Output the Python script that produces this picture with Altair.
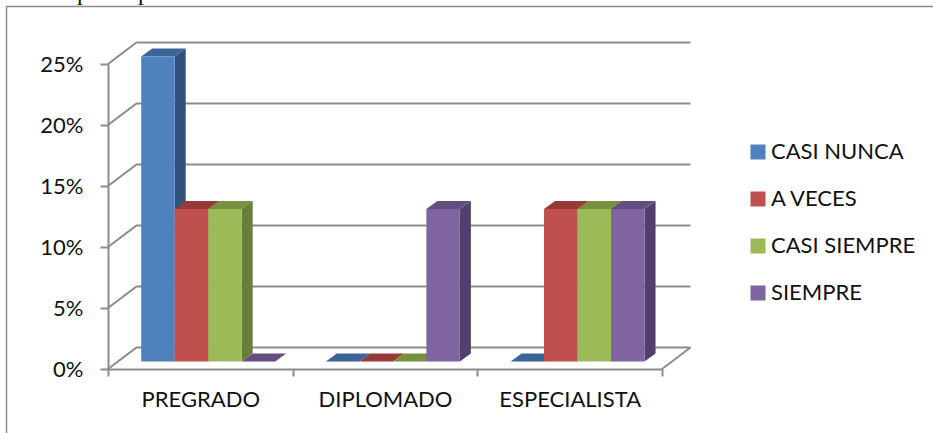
import altair as alt
import pandas as pd

categories = ["PREGRADO", "DIPLOMADO", "ESPECIALISTA"]
series = ["CASI NUNCA", "A VECES", "CASI SIEMPRE", "SIEMPRE"]
casi_nunca = [0.25, 0.0, 0.0]
a_veces = [0.125, 0.0, 0.125]
casi_siempre = [0.125, 0.0, 0.125]
siempre = [0.0, 0.125, 0.125]
front_colors = ["#4F81BD", "#C0504D", "#9BBB59", "#8064A2"]
side_colors = ["#31527A", "#7D3432", "#66803A", "#533F6E"]
top_colors = ["#3B6497", "#953A38", "#76903F", "#644E80"]
y_ticks = [0, 0.05, 0.10, 0.15, 0.20, 0.25]
stray_letters = ["p", "p"]

# Oblique projection, expressed in axis units
PLOT_W, PLOT_H = 554, 305
X_PER_PX = 3 / PLOT_W
Y_PER_PX = 0.25 / PLOT_H
wall_dx, wall_dy = 28.5 * X_PER_PX, 21.5 * Y_PER_PX
bar_dx, bar_dy = 11 * X_PER_PX, 8 * Y_PER_PX
shift_x, shift_y = 33.2 * X_PER_PX, 7.5 * Y_PER_PX
bar_w = 33.5 * X_PER_PX

GREY = "#8C8C8C"
FONT = "Lato"
x_scale = alt.Scale(domain=[0, 3], nice=False)
y_scale = alt.Scale(domain=[0, 0.25], nice=False)

# Walls and floor lines
grid_rows = []
for t in y_ticks:
    grid_rows += [
        {"line": t, "order": 0, "x": 0, "y": t},
        {"line": t, "order": 1, "x": wall_dx, "y": t + wall_dy},
        {"line": t, "order": 2, "x": 3 + wall_dx, "y": t + wall_dy},
    ]
grid_rows += [
    {"line": -1, "order": 0, "x": 3, "y": 0},
    {"line": -1, "order": 1, "x": 3 + wall_dx, "y": wall_dy},
]
grid = alt.Chart(pd.DataFrame(grid_rows)).mark_line(
    color=GREY, strokeWidth=2
).encode(
    x=alt.X("x:Q", scale=x_scale, title=None,
            axis=alt.Axis(
                values=[0, 0.5, 1, 1.5, 2, 2.5, 3],
                labelExpr="datum.value === 0.5 ? '%s' : datum.value === 1.5 ? '%s' : datum.value === 2.5 ? '%s' : ''" % tuple(categories),
                tickOpacity={"condition": {"test": "datum.value % 1 === 0", "value": 1}, "value": 0},
                domainColor=GREY, domainWidth=2, tickColor=GREY, tickWidth=2, tickSize=7,
                labelFont=FONT, labelFontSize=22, labelColor="#111111", labelPadding=13,
                labelOverlap=False, labelFlush=False, grid=False)),
    y=alt.Y("y:Q", scale=y_scale, title=None,
            axis=alt.Axis(
                values=y_ticks, format=".0%",
                domainColor=GREY, domainWidth=2, tickColor=GREY, tickWidth=2, tickSize=8,
                labelFont=FONT, labelFontSize=22, labelColor="#111111", labelPadding=17,
                labelOverlap=False, grid=False)),
    detail="line:N",
    order="order:Q",
)

# Chart frame
frame_top = alt.Chart(pd.DataFrame({"a": [0]})).mark_rule(color=GREY, strokeWidth=1.5).encode(
    x=alt.value(-101.5), x2=alt.value(840), y=alt.value(-57.5))
frame_left = alt.Chart(pd.DataFrame({"a": [0]})).mark_rule(color=GREY, strokeWidth=1.5).encode(
    x=alt.value(-101.5), y=alt.value(-57.5), y2=alt.value(380))

# Descenders of the line of text running above the frame
stray_a = alt.Chart(pd.DataFrame({"t": stray_letters[:1]})).mark_text(
    font="Liberation Serif", fontSize=24, color="#111111", align="left", baseline="alphabetic"
).encode(x=alt.value(-31), y=alt.value(-64), text="t:N")
stray_b = alt.Chart(pd.DataFrame({"t": stray_letters[1:]})).mark_text(
    font="Liberation Serif", fontSize=24, color="#111111", align="left", baseline="alphabetic"
).encode(x=alt.value(30), y=alt.value(-64), text="t:N")

values = [casi_nunca, a_veces, casi_siempre, siempre]
faces, sides, tops = [], [], []
for g in range(len(categories)):
    for s, name in enumerate(series):
        v = values[s][g]
        x0 = g + shift_x + s * bar_w
        x1 = x0 + bar_w
        if v > 0:
            faces.append({"series": name, "x0": x0, "x1": x1, "y0": shift_y, "y1": v + shift_y})
            sides += [
                {"id": f"{g}-{s}", "series": name, "px": x1, "lo": shift_y, "hi": v + shift_y},
                {"id": f"{g}-{s}", "series": name, "px": x1 + bar_dx, "lo": shift_y + bar_dy, "hi": v + shift_y + bar_dy},
            ]
        tops += [
            {"id": f"{g}-{s}", "series": name, "py": v + shift_y, "left": x0, "right": x1},
            {"id": f"{g}-{s}", "series": name, "py": v + shift_y + bar_dy, "left": x0 + bar_dx, "right": x1 + bar_dx},
        ]

side_layer = alt.Chart(pd.DataFrame(sides)).mark_area(orient="vertical").encode(
    x=alt.X("px:Q", scale=x_scale),
    y=alt.Y("lo:Q", scale=y_scale),
    y2="hi:Q",
    color=alt.Color("series:N", scale=alt.Scale(domain=series, range=side_colors), legend=None),
    detail="id:N",
)
top_layer = alt.Chart(pd.DataFrame(tops)).mark_area(orient="horizontal").encode(
    y=alt.Y("py:Q", scale=y_scale),
    x=alt.X("left:Q", scale=x_scale),
    x2="right:Q",
    color=alt.Color("series:N", scale=alt.Scale(domain=series, range=top_colors), legend=None),
    detail="id:N",
)
front_layer = alt.Chart(pd.DataFrame(faces)).mark_rect().encode(
    x=alt.X("x0:Q", scale=x_scale),
    x2="x1:Q",
    y=alt.Y("y0:Q", scale=y_scale),
    y2="y1:Q",
    color=alt.Color("series:N", scale=alt.Scale(domain=series, range=front_colors),
                    sort=series,
                    legend=alt.Legend(
                        title=None, orient="none", legendX=639, legendY=77,
                        symbolType="square", symbolSize=225, symbolStrokeWidth=0,
                        labelFont=FONT, labelFontSize=22, labelColor="#111111",
                        labelOffset=2, rowPadding=25, labelLimit=220)),
)

chart = alt.layer(frame_top, frame_left, stray_a, stray_b, grid, side_layer, top_layer, front_layer).resolve_scale(
    color="independent"
).properties(
    width=PLOT_W, height=PLOT_H,
    padding={"left": 108, "top": 64, "right": 271, "bottom": 64},
    autosize=alt.AutoSizeParams(type="none"),
    background="white",
).configure_view(stroke=None)

chart.save("out.html", embed_options={"renderer": "svg", "actions": False})
